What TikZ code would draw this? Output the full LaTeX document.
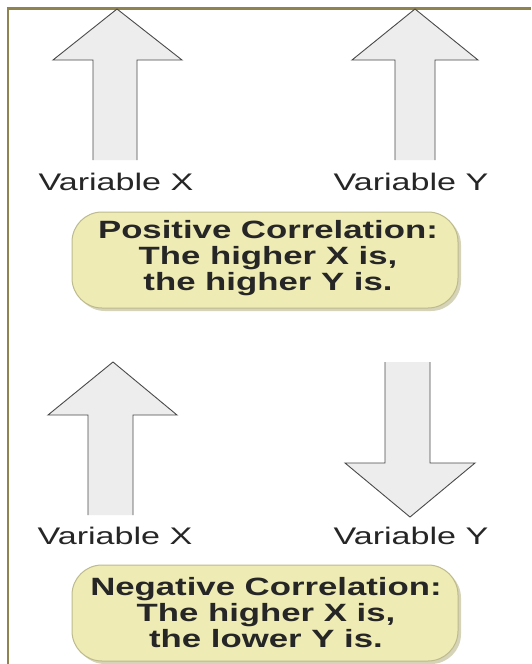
\documentclass[tikz,border=0pt]{standalone}
\usepackage{fontspec}
\setmainfont{Liberation Sans}
\usepackage{graphicx}
\definecolor{frameol}{HTML}{8F8450}
\definecolor{arrowfill}{HTML}{EDEDED}
\definecolor{arrowline}{HTML}{4A4A4A}
\definecolor{boxfill}{HTML}{EEEBB4}
\definecolor{boxline}{HTML}{BDBA8E}
\definecolor{boxshadow}{HTML}{D6D4B8}
\definecolor{txt}{HTML}{262626}
\newcommand{\sxl}[1]{\scalebox{1.42}[1]{#1}}
\newcommand{\sxb}[1]{\scalebox{1.39}[1]{#1}}
\begin{document}
\begin{tikzpicture}[x=1pt,y=-1pt,
  arrowbody/.style={fill=arrowfill,draw=none},
  arrowedge/.style={draw=arrowline,line width=0.9pt,line join=miter},
  varlabel/.style={anchor=base,inner sep=0pt,text=txt,font=\fontsize{24}{25}\selectfont},
  corrbox/.style={draw=boxline,line width=1pt,fill=boxfill,rounded corners=30pt,minimum width=386pt,minimum height=96pt,inner sep=0pt},
  corrshadow/.style={fill=boxshadow,draw=none,rounded corners=30pt,minimum width=386pt,minimum height=96pt,inner sep=0pt},
  corrtext/.style={align=center,inner sep=0pt,text=txt,font=\fontsize{25}{26}\selectfont\bfseries}]
\useasboundingbox (0,0) rectangle (531,664);
\fill[white] (0,0) rectangle (531,664);
% frame (top and left edges)
\draw[frameol,line width=2.5pt] (8,664) -- (8,8.5) -- (531,8.5);

% arrow 1: up (Variable X, top)
\fill[arrowbody] (93,160) -- (93,60) -- (53,60) -- (117,9) -- (182,60) -- (137,60) -- (137,160) -- cycle;
\draw[arrowedge] (93,160) -- (93,60) -- (53,60) -- (117,9) -- (182,60) -- (137,60) -- (137,160);
% arrow 2: up (Variable Y, top)
\fill[arrowbody] (395,160) -- (395,60) -- (352,60) -- (415,9) -- (478,60) -- (435,60) -- (435,160) -- cycle;
\draw[arrowedge] (395,160) -- (395,60) -- (352,60) -- (415,9) -- (478,60) -- (435,60) -- (435,160);
% arrow 3: up (Variable X, bottom)
\fill[arrowbody] (88,515) -- (88,415) -- (48,415) -- (113,362) -- (177,415) -- (133,415) -- (133,515) -- cycle;
\draw[arrowedge] (88,515) -- (88,415) -- (48,415) -- (113,362) -- (177,415) -- (133,415) -- (133,515);
% arrow 4: down (Variable Y, bottom)
\fill[arrowbody] (385,362) -- (385,463) -- (345,463) -- (410,517) -- (475,463) -- (430,463) -- (430,362) -- cycle;
\draw[arrowedge] (385,362) -- (385,463) -- (345,463) -- (410,517) -- (475,463) -- (430,463) -- (430,362);

% labels
\node[varlabel] (vx1) at (116,190) {\sxl{Variable X}};
\node[varlabel] (vy1) at (411,190) {\sxl{Variable Y}};
\node[varlabel] (vx2) at (115,544) {\sxl{Variable X}};
\node[varlabel] (vy2) at (411,544) {\sxl{Variable Y}};

% positive correlation box
\node[corrshadow] (pshadow) at (268,263) {};
\node[corrbox] (pbox) at (265,260) {};
\node[corrtext] (ptext) at (268,258) {\sxb{Positive Correlation:}\\\sxb{The higher X is,}\\\sxb{the higher Y is.}};

% negative correlation box
\node[corrshadow] (nshadow) at (268,616) {};
\node[corrbox] (nbox) at (265,613) {};
\node[corrtext] (ntext) at (266,613) {\sxb{Negative Correlation:}\\\sxb{The higher X is,}\\\sxb{the lower Y is.}};
\end{tikzpicture}
\end{document}
